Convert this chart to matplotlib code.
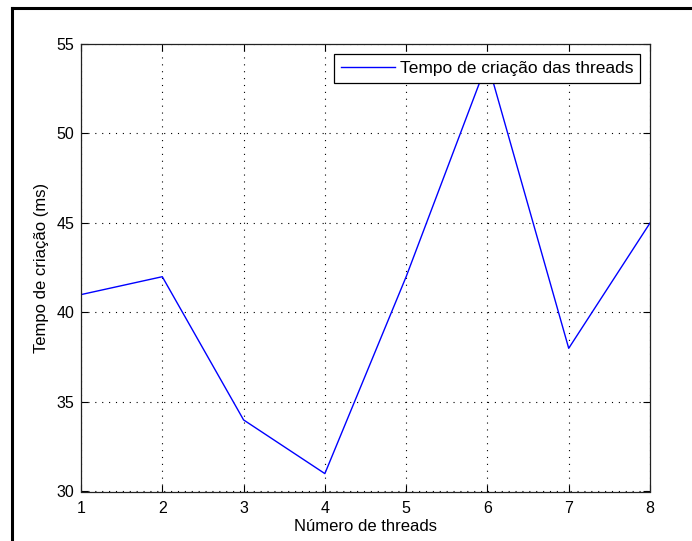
import matplotlib
matplotlib.use("Agg")
import matplotlib.pyplot as plt
from matplotlib.lines import Line2D

threads = [1, 2, 3, 4, 5, 6, 7, 8]
tempo = [41, 42, 34, 31, 42, 54, 38, 45]
xticks = [1, 2, 3, 4, 5, 6, 7, 8]
yticks = [30, 35, 40, 45, 50, 55]

plt.rcParams['font.family'] = ['Liberation Sans', 'DejaVu Sans']

W, H = 692, 541
fig = plt.figure(figsize=(W / 100, H / 100), dpi=100)
fig.patch.set_facecolor('white')

# figure border (left and top)
fig.add_artist(Line2D([12 / W, 12 / W], [0, 1 - 8 / H], color='black', lw=2.2, transform=fig.transFigure))
fig.add_artist(Line2D([12 / W, 1], [1 - 8 / H, 1 - 8 / H], color='black', lw=2.2, transform=fig.transFigure))

ax = fig.add_axes([81 / W, 1 - 491.5 / H, (650 - 81) / W, (491.5 - 44) / H])
ax.plot(threads, tempo, color='#0000ff', lw=1.0, label='Tempo de criação das threads')
ax.set_xlim(1, 8)
ax.set_ylim(30, 55)
ax.set_xticks(xticks)
ax.set_yticks(yticks)
ax.tick_params(direction='in', top=True, right=True, length=5, width=0.8, labelsize=11.5, colors='black')
ax.tick_params(axis='x', pad=7)
ax.tick_params(axis='y', pad=5)
ax.grid(True, color='black', linestyle=(0, (1, 5.2)), lw=0.8)
for s in ax.spines.values():
    s.set_linewidth(0.9)
    s.set_color('#222222')
ax.set_xlabel('Número de threads', fontsize=12, labelpad=2)
ax.set_ylabel('Tempo de criação (ms)', fontsize=12, labelpad=5)

leg = ax.legend(loc='upper right', fontsize=12.5, frameon=True, fancybox=False, shadow=False,
                borderpad=0.4, handlelength=3.1, handletextpad=0.3, borderaxespad=0.55)
leg.get_frame().set_edgecolor('black')
leg.get_frame().set_linewidth(0.9)
leg.get_frame().set_alpha(1.0)

fig.savefig('out.png', dpi=100, facecolor='white')
